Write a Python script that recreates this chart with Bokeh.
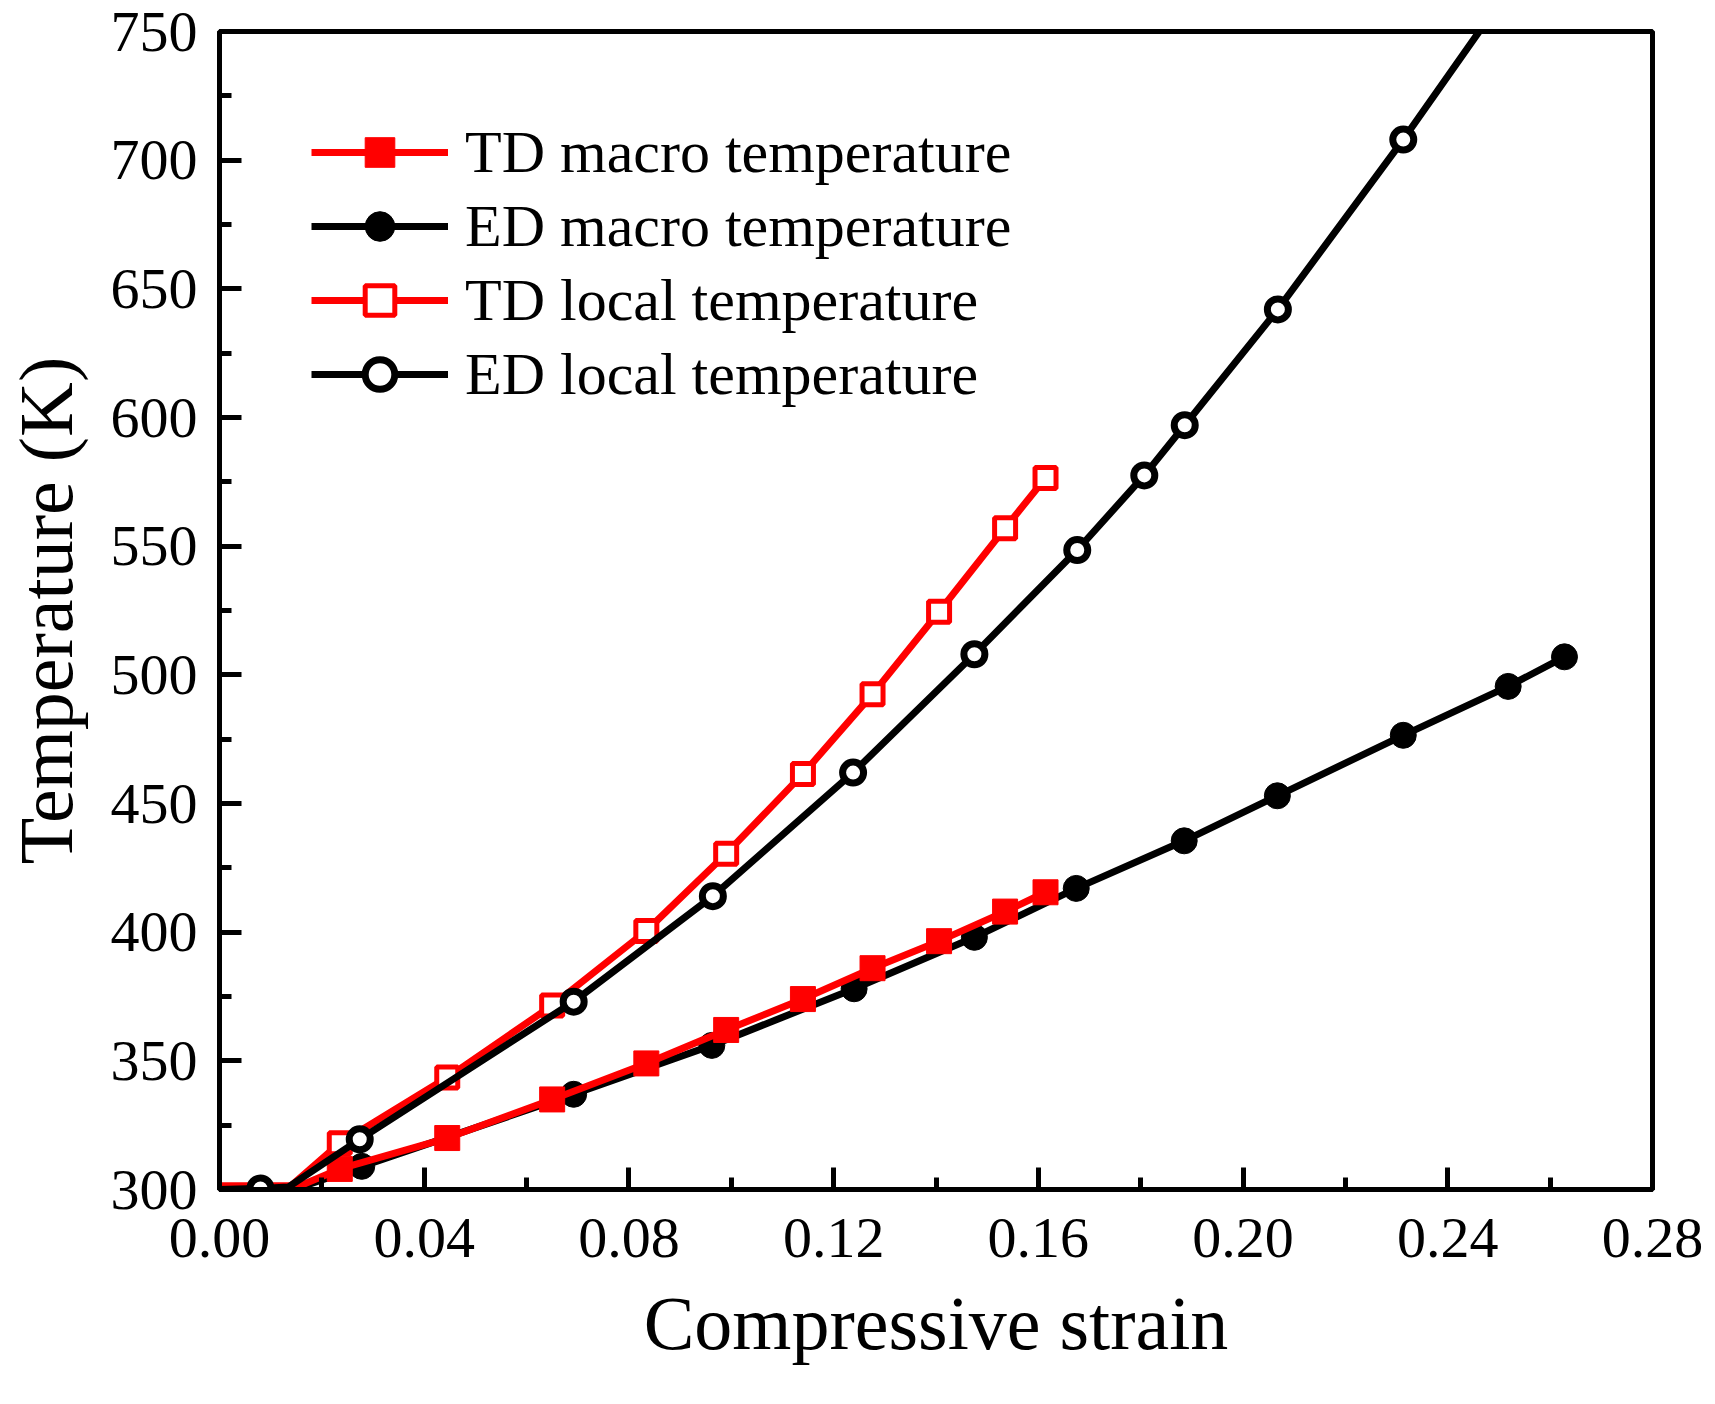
from bokeh.plotting import figure
from bokeh.models import (Range1d, SingleIntervalTicker, NumeralTickFormatter,
                          Legend, LegendItem)
from bokeh.embed import file_html
from bokeh.resources import INLINE

# ---- data ----
td_macro_x = [0.0, 0.014, 0.0235, 0.0445, 0.065, 0.0834, 0.099, 0.114, 0.1276, 0.1406, 0.1535, 0.1614]
td_macro_y = [300, 300, 308, 320, 335, 349, 362, 374, 386, 396.5, 408, 415.5]

ed_macro_x = [0.0, 0.0145, 0.0278, 0.0692, 0.0962, 0.124, 0.1475, 0.1674, 0.1885, 0.2067, 0.2313, 0.2518, 0.2628]
ed_macro_y = [300, 300, 309, 337, 356, 378, 398, 417, 435.5, 453, 476.5, 495.5, 507]

td_local_x = [0.0, 0.014, 0.0235, 0.0445, 0.065, 0.0834, 0.099, 0.114, 0.1276, 0.1406, 0.1535, 0.1614]
td_local_y = [301.5, 301.5, 318, 343.5, 371.5, 400.5, 430.5, 461.5, 492.5, 524.5, 557, 576.5]

ed_local_x = [0.0, 0.008, 0.0135, 0.0274, 0.0692, 0.0964, 0.1238, 0.1475, 0.1676, 0.1807, 0.1886, 0.2068, 0.2313, 0.2518, 0.2635]
ed_local_y = [300, 300.4, 301, 319.5, 373, 414, 462, 508, 548.5, 577.5, 597, 642, 708, 766, 800]

# points that carry a marker
td_macro_mx, td_macro_my = td_macro_x[2:], td_macro_y[2:]
ed_macro_mx, ed_macro_my = ed_macro_x[2:], ed_macro_y[2:]
td_local_mx, td_local_my = td_local_x[2:], td_local_y[2:]
ed_local_mx = [ed_local_x[1]] + ed_local_x[3:]
ed_local_my = [ed_local_y[1]] + ed_local_y[3:]

labels = ["TD macro temperature", "ED macro temperature",
          "TD local temperature", "ED local temperature"]

FONT = "Liberation Serif"
RED = "#ff0000"

p = figure(frame_width=1433, frame_height=1158,
           min_border_left=195, min_border_right=53,
           min_border_top=31, min_border_bottom=199,
           x_range=Range1d(0, 0.28), y_range=Range1d(300, 750),
           output_backend="svg", toolbar_location=None)
p.grid.visible = False
p.background_fill_color = "white"
p.border_fill_color = "white"
p.outline_line_color = "black"
p.outline_line_width = 5

p.xaxis.ticker = SingleIntervalTicker(interval=0.04, num_minor_ticks=2)
p.yaxis.ticker = SingleIntervalTicker(interval=50, num_minor_ticks=2)
p.xaxis.formatter = NumeralTickFormatter(format="0.00")

for ax in (p.xaxis[0], p.yaxis[0]):
    ax.axis_line_width = 5
    ax.axis_line_color = "black"
    ax.major_tick_in = 22
    ax.major_tick_out = 0
    ax.minor_tick_in = 12
    ax.minor_tick_out = 0
    ax.major_tick_line_width = 5
    ax.minor_tick_line_width = 5
    ax.major_label_text_font = FONT
    ax.major_label_text_font_size = "58px"
    ax.major_label_text_color = "black"
    ax.axis_label_text_font = FONT
    ax.axis_label_text_font_size = "76px"
    ax.axis_label_text_font_style = "normal"
    ax.axis_label_text_color = "black"

p.xaxis.axis_label = "Compressive strain"
p.yaxis.axis_label = "Temperature (K)"
p.xaxis.major_label_standoff = 29
p.yaxis.major_label_standoff = 22
p.xaxis.axis_label_standoff = 21
p.yaxis.axis_label_standoff = 20

LW = 7
# ED macro
l_edm = p.line(ed_macro_x, ed_macro_y, line_color="black", line_width=LW, line_join="round")
s_edm = p.scatter(ed_macro_mx, ed_macro_my, marker="circle", size=26,
                  fill_color="black", line_color="black", line_width=1)
# TD macro
l_tdm = p.line(td_macro_x, td_macro_y, line_color=RED, line_width=LW, line_join="round")
s_tdm = p.scatter(td_macro_mx, td_macro_my, marker="square", size=25,
                  fill_color=RED, line_color=RED, line_width=1)
# TD local
l_tdl = p.line(td_local_x, td_local_y, line_color=RED, line_width=LW, line_join="round")
s_tdl = p.scatter(td_local_mx, td_local_my, marker="square", size=21,
                  fill_color="white", line_color=RED, line_width=5)
# ED local
l_edl = p.line(ed_local_x, ed_local_y, line_color="black", line_width=LW, line_join="round")
s_edl = p.scatter(ed_local_mx, ed_local_my, marker="circle", size=21,
                  fill_color="white", line_color="black", line_width=7)

legend = Legend(items=[
    LegendItem(label=labels[0], renderers=[l_tdm, s_tdm]),
    LegendItem(label=labels[1], renderers=[l_edm, s_edm]),
    LegendItem(label=labels[2], renderers=[l_tdl, s_tdl]),
    LegendItem(label=labels[3], renderers=[l_edl, s_edl]),
], location=(92, 778))
legend.padding = 0
legend.margin = 0
legend.spacing = 0
legend.glyph_width = 137
legend.glyph_height = 74
legend.label_height = 74
legend.label_standoff = 17
legend.label_text_font = FONT
legend.label_text_font_size = "60px"
legend.label_text_color = "black"
legend.border_line_color = None
legend.background_fill_alpha = 0
p.add_layout(legend)

open("out.html", "w").write(file_html(p, INLINE))
